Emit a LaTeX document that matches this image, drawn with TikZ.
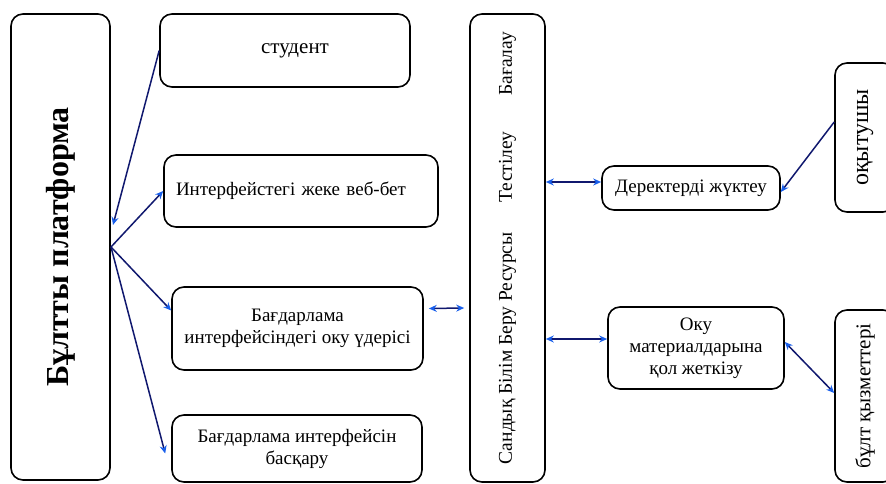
\documentclass[tikz,border=0pt]{standalone}
\usepackage{fontspec}
\setmainfont{Liberation Serif}
\usetikzlibrary{arrows.meta}

\definecolor{linknavy}{RGB}{16,24,110}
\definecolor{tipblue}{RGB}{25,95,235}

\tikzset{
  box/.style={draw=black, line width=1.6pt, rounded corners=12pt, align=center,
    inner sep=4pt, font=\fontsize{19}{22}\selectfont},
  link/.style={draw=linknavy, line width=1.5pt,
    -{Stealth[length=8pt,width=7pt,color=tipblue]}},
  twolink/.style={link,
    {Stealth[length=8pt,width=7pt,color=tipblue]}-{Stealth[length=8pt,width=7pt,color=tipblue]}},
}

\begin{document}
\begin{tikzpicture}[x=1pt,y=-1pt]
   \clip (0,0) rectangle (886,484);

   % left column
   \node[box, rotate=90, minimum width=466pt, minimum height=99pt,
         font=\fontsize{32}{38}\selectfont\bfseries] (platform) at (60.5,247) {Бұлтты платформа};
   \coordinate (fan) at (111,247);
   \coordinate (fanin) at (113,225);

   \node[box, minimum width=250pt, minimum height=73pt,
         font=\fontsize{21}{25}\selectfont] (student) at (285,50.5) {\hspace*{20pt}студент};
   \node[box, text width=250pt, align=left, inner xsep=12pt, minimum height=72pt] (webpage) at (301,191)
        {Интерфейстегі жеке веб-бет};
   \node[box, minimum width=251pt, minimum height=83pt] (learning) at (297.5,328.5)
        {Бағдарлама\\интерфейсіндегі оку үдерісі};
   \node[box, minimum width=250pt, minimum height=67pt] (control) at (297,448.5)
        {Бағдарлама интерфейсін\\басқару};

   % middle column
   \node[box, rotate=90, minimum width=468pt, minimum height=75pt,
         font=\fontsize{19.5}{23}\selectfont] (resource) at (507.5,248)
        {Сандық Білім Беру Ресурсы\hspace{30pt}Тестілеу\hspace{36pt}Бағалау};

   % right column
   \node[box, minimum width=178pt, minimum height=44pt] (upload) at (691,188) {Деректерді жүктеу};
   \node[box, minimum width=176pt, minimum height=82pt] (access) at (696,348)
        {Оку\\материалдарына\\қол жеткізу};
   \node[box, rotate=90, minimum width=149pt, minimum height=60pt,
         font=\fontsize{24}{28}\selectfont] (teacher) at (865,137.5) {оқытушы};
   \node[box, rotate=90, minimum width=172pt, minimum height=60pt,
         font=\fontsize{21}{25}\selectfont] (cloud) at (865,396) {бұлт қызметтері};

   % fan from the platform
   \draw[link] (student.west) -- (fanin);
   \draw[link] (fan) -- (webpage.west);
   \draw[link] (fan) -- ([yshift=18pt]learning.west);
   \draw[link] (fan) -- ([xshift=-6pt,yshift=-5pt]control.west);

   % resource links
   \draw[twolink] ([xshift=5pt,yshift=20pt]learning.east) -- ([xshift=-5pt,yshift=-60pt]resource.north);
   \draw[twolink] ([yshift=66pt]resource.south) -- ([yshift=6pt]upload.west);
   \draw[twolink] ([yshift=-91pt]resource.south) -- ([yshift=9pt]access.west);
   \draw[link] ([yshift=15.5pt]teacher.north) -- ([yshift=-4pt]upload.east);
   \draw[twolink] ([yshift=6pt]access.east) -- ([yshift=3pt]cloud.north);
\end{tikzpicture}
\end{document}
